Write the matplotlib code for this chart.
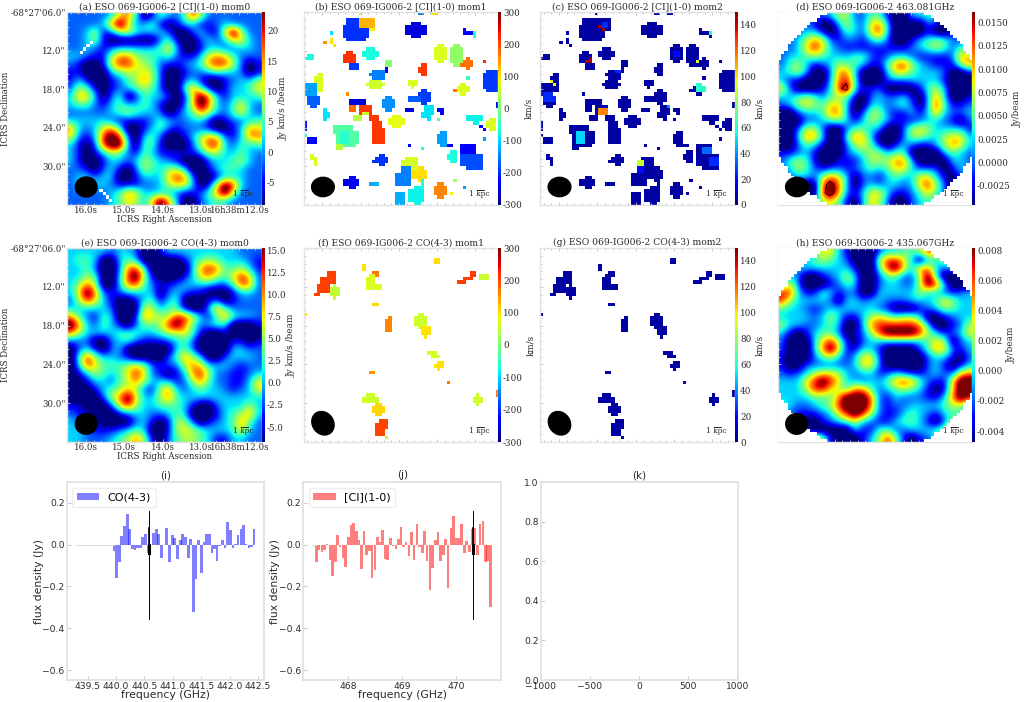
import numpy as np
import matplotlib
matplotlib.use('Agg')
import matplotlib.pyplot as plt
from matplotlib.colors import ListedColormap
from matplotlib.patches import Ellipse
from matplotlib.ticker import AutoMinorLocator, FormatStrFormatter

W, H = 1024, 702
SERIF = 'DejaVu Serif'
GREY = '#e2e2e2'
TXT = '#2a2a2a'
plt.rcParams['font.family'] = 'DejaVu Sans'

# map levels, 0 = bottom of colour bar, 9 = top of colour bar
ci_mom0_rows = [
    "222223674014324852222222", "222237962341013311232222", "223512564333200231169522",
    "223510000002410023236632", "223212333334630013322332", "332115775443421136764222",
    "210016886542112347885201", "110003455652001223433201", "131001245752002310012335",
    "254101234542004741013346", "376302401433201697313334", "344213433431002697324632",
    "222223454332013475324632", "333332111124322331012234", "732367400134212221001376",
    "621389820342001357621377", "310289930441000258832434", "310135421431111135533432",
    "310013323543210002334532", "221023102543553001344322", "233233001333687200133322",
    "233332111223566301698322", "222223476333321124795222", "222223465369730023432222",
]
co_mom0_rows = [
    "333332332001333333333222", "344300343000001345433321", "334200278400000378744531",
    "335400389510001367546862", "357500378421123333224872", "369721233330232110001332",
    "258631001341340001201222", "333332000653441003742222", "742143001765588631474332",
    "973243102445897423430001", "753333444334556410010000", "222002342111234200001101",
    "023102300000034200003322", "048533210000247530023332", "038644456521225763332122",
    "013543468621013785221123", "001332457533312574221136", "000134565215732343321236",
    "000025796335743333333333", "110002685334443100233353", "211000123322343000134573",
    "321100002310155201234742", "332111234300156543334632", "332223457510245543113322",
]
cont_463_rows = [
    "222222355224410033432222", "222210035326730000210122", "222331014326830000100122",
    "223576212213420013454222", "223686321111111123454243", "233454333442123321111276",
    "245312354431147853211157", "345300277300036643332001", "311000378400022233331000",
    "620001389311200001453000", "334542454102322310373001", "235654663003323420384112",
    "002334773025521131373223", "000223453135431112332102", "002552002443300256533331",
    "003773004763000255435663", "002431002564101321135763", "112310002345534400003432",
    "245410011135557730000332", "235421221234346632220132", "223325763022134336631022",
    "220007973023233236852012", "220008972136631124642002", "222225641036520023432122",
]
cont_435_rows = [
    "222236631000233445875322", "222345432000588630335432", "223333333100489637732322",
    "232001235300244225930002", "362000124300233225983000", "883114312200333335332123",
    "853333203323322233346533", "433212333333210001235433", "333323531135654553001233",
    "533223430037888887300125", "310134420125899998531236", "200036851023333333465023",
    "200037961133100002476213", "100024531366200000233102", "100222222366200000231013",
    "212356653233123211232267", "333689863323347874211699", "333588654774234543101699",
    "333344479997213222113798", "432234589997212233334553", "321112368985211343213433",
    "331001234532113443102553", "221100000311442233345842", "222275100013585101235322",
]

# colour bar ranges and ticks per map
ci_mom0_range = (-8.7, 23.1)
co_mom0_range = (-6.7, 15.3)
cont_463_range = (-0.00457, 0.01614)
cont_435_range = (-0.00473, 0.00815)
mom1_range = (-300, 300)
mom2_range = (0, 150)
ci_mom0_ticks = [-5, 0, 5, 10, 15, 20]
co_mom0_ticks = [-5.0, -2.5, 0.0, 2.5, 5.0, 7.5, 10.0, 12.5, 15.0]
cont_463_ticks = [-0.0025, 0.0, 0.0025, 0.005, 0.0075, 0.01, 0.0125, 0.015]
cont_435_ticks = [-0.004, -0.002, 0.0, 0.002, 0.004, 0.006, 0.008]
mom1_ticks = [-300, -200, -100, 0, 100, 200, 300]
mom2_ticks = [0, 20, 40, 60, 80, 100, 120, 140]

# detected regions as (col0, col1, row0, row1, km/s) on the 60x60 map
ci_mom1_blocks = [
    (12, 20, 4, 8, -195), (13, 19, 2, 9, -195), (17, 22, 2, 5, 130), (20, 22, 5, 6, 95), (17, 18, 0, 1, 60),
    (35, 37, 0, 1, -150), (39, 41, 0, 1, 105), (31, 38, 4, 7, -250), (33, 36, 3, 8, -250), (8, 9, 6, 7, -90),
    (6, 7, 9, 10, 150), (8, 9, 8, 10, 100), (9, 10, 10, 11, 100), (49, 50, 5, 7, -230), (50, 52, 6, 7, -230),
    (52, 53, 6, 8, -70), (1, 3, 13, 15, -70), (0, 1, 14, 15, -70), (12, 16, 13, 16, 215), (13, 15, 12, 13, 215),
    (14, 17, 16, 18, -190), (18, 23, 12, 14, -75), (19, 22, 11, 15, -75), (40, 44, 11, 15, 70), (41, 43, 10, 16, 70),
    (45, 49, 11, 16, 15), (46, 48, 10, 17, 15), (49, 52, 15, 17, 175), (50, 51, 14, 18, 175), (48, 50, 16, 17, 175),
    (55, 56, 15, 16, 220), (50, 51, 20, 21, -50), (35, 38, 17, 19, 210), (36, 38, 16, 20, 210),
    (21, 25, 18, 21, -150), (20, 24, 19, 20, -150), (25, 26, 17, 19, -240), (25, 27, 15, 17, 10),
    (19, 25, 22, 23, 60), (20, 24, 21, 24, 60), (3, 6, 20, 24, 70), (4, 6, 19, 25, 70),
    (0, 4, 22, 26, -130), (1, 5, 26, 29, -170), (2, 4, 29, 30, -170), (32, 35, 21, 23, 70), (33, 34, 23, 24, 70),
    (55, 59, 19, 24, -190), (56, 60, 18, 25, -190), (47, 51, 23, 25, 70), (48, 50, 22, 26, 70), (46, 47, 24, 25, 170),
    (13, 14, 25, 26, 150), (35, 39, 25, 28, -190), (32, 36, 26, 28, -170), (36, 38, 24, 29, -190),
    (14, 19, 27, 29, -250), (24, 28, 27, 30, -140), (25, 27, 26, 31, -140), (31, 34, 30, 31, -250),
    (37, 40, 29, 32, -90), (36, 39, 31, 33, -90), (38, 39, 33, 34, -90), (41, 43, 30, 31, -230), (42, 43, 31, 32, -230),
    (6, 8, 31, 33, -90), (6, 7, 30, 34, -90), (14, 16, 29, 31, 180), (17, 21, 29, 32, 210), (20, 23, 32, 34, 210),
    (21, 24, 34, 36, 210), (21, 25, 36, 41, 210), (15, 18, 32, 34, 40), (18, 20, 31, 32, 60),
    (26, 31, 33, 35, 75), (27, 30, 32, 36, 75), (50, 55, 32, 34, -80), (52, 54, 34, 35, -80), (54, 55, 35, 36, -230),
    (55, 56, 36, 37, -230), (57, 59, 33, 37, 70), (56, 58, 34, 36, 70), (59, 60, 28, 30, -220),
    (41, 42, 33, 34, -30), (10, 17, 37, 41, -30), (9, 15, 35, 38, -30), (12, 16, 41, 42, -30), (11, 14, 37, 41, -60),
    (10, 12, 41, 43, 40), (0, 1, 34, 37, -220), (1, 4, 39, 41, -230), (0, 1, 38, 39, -70), (41, 44, 38, 41, -130),
    (42, 44, 37, 42, -130), (44, 46, 41, 42, -230), (32, 33, 41, 42, -230), (36, 37, 42, 43, -60), (55, 56, 39, 40, -130),
    (48, 53, 41, 44, -230), (48, 55, 44, 48, -180), (50, 55, 48, 49, -180), (44, 47, 44, 46, -70), (45, 47, 43, 47, -70),
    (2, 3, 44, 46, 70), (3, 4, 45, 48, 70), (22, 26, 45, 47, -195), (21, 25, 46, 47, -195), (23, 25, 44, 48, -195),
    (31, 35, 45, 49, 65), (30, 32, 46, 48, 65), (33, 38, 49, 52, 105), (35, 37, 48, 53, 105), (28, 33, 50, 54, -150),
    (30, 33, 48, 50, -150), (12, 17, 52, 54, -240), (14, 16, 51, 55, -240), (20, 23, 53, 54, -120),
    (46, 47, 52, 53, 20), (49, 50, 54, 55, -130), (36, 37, 52, 55, -70), (32, 37, 55, 59, -80), (34, 36, 54, 60, -80),
    (28, 31, 56, 60, -120), (40, 44, 54, 57, 160), (41, 43, 53, 58, 160), (45, 46, 56, 57, 90),
]
# spots of larger dispersion, the rest of the mask sits near 5 km/s
ci_mom2_spots = [
    (18, 19, 4, 5, 145), (19, 20, 5, 6, 145), (19, 21, 3, 5, 25), (15, 16, 14, 16, 145), (14, 15, 15, 16, 145),
    (23, 25, 17, 19, 25), (41, 43, 12, 14, 20), (44, 45, 14, 15, 40), (48, 49, 15, 16, 95), (48, 51, 22, 25, 60),
    (3, 4, 21, 22, 95), (4, 5, 22, 23, 95), (1, 5, 25, 28, 25), (18, 21, 30, 32, 115), (39, 40, 29, 30, 40),
    (11, 14, 37, 41, 50), (1, 2, 38, 39, 60), (50, 54, 42, 44, 35), (52, 55, 45, 48, 25), (30, 32, 46, 48, 90),
    (30, 32, 48, 50, 20), (37, 38, 52, 53, 75), (52, 53, 6, 7, 60),
]
co_mom1_blocks = [
    (7, 10, 7, 9, 205), (5, 10, 9, 11, 205), (4, 8, 11, 14, 205), (3, 5, 14, 15, 205), (8, 11, 12, 15, 50),
    (9, 10, 11, 16, 50), (40, 42, 3, 5, 105), (18, 19, 5, 7, 100), (21, 23, 7, 9, 170), (20, 22, 8, 13, 70),
    (19, 24, 11, 13, 70), (19, 21, 9, 11, 70), (21, 23, 17, 18, 110), (0, 1, 20, 21, 105), (25, 27, 22, 26, 160),
    (26, 27, 21, 22, 160), (34, 38, 21, 24, 60), (35, 37, 20, 25, 60), (36, 39, 24, 27, 100), (37, 38, 27, 28, 100),
    (38, 41, 32, 33, 65), (39, 42, 33, 34, 65), (41, 43, 35, 37, 100), (40, 42, 36, 37, 100), (41, 42, 37, 38, 100),
    (20, 22, 38, 39, 150), (44, 45, 41, 42, 170), (59, 60, 44, 46, 170), (18, 23, 46, 48, 60), (19, 22, 45, 48, 60),
    (52, 55, 46, 48, 60), (53, 54, 45, 49, 60), (21, 25, 49, 51, 110), (22, 24, 48, 52, 110), (22, 26, 54, 56, 200),
    (22, 25, 56, 58, 200), (23, 26, 53, 56, 200), (25, 26, 58, 59, 50), (51, 53, 7, 9, 205), (49, 52, 9, 10, 205),
    (47, 50, 10, 11, 205), (54, 57, 8, 10, 55),
]
co_mom2_spots = [(8, 9, 11, 12, 70)]
mom2_floor = 5

# blank map pixels on the rim of panel (a), (col0, col1, row0, row1)
ci_mom0_blank = [(10, 11, 55, 56), (11, 12, 56, 57), (12, 13, 57, 58), (13, 14, 58, 59),
                 (4, 5, 12, 13), (5, 6, 11, 12), (6, 7, 10, 11), (7, 8, 9, 10)]

# beam and scale bar, (centre x, centre y, width, height, angle)
beam_a = (5.9, 54.4, 6.7, 6.2, 0)
beam_b = (6.0, 54.4, 7.0, 6.0, 0)
beam_e = (5.9, 54.4, 6.7, 6.4, 0)
beam_f = (6.0, 54.2, 6.5, 7.6, -35)

# spectra
co_freq = [439.96, 440.01, 440.06, 440.10, 440.15, 440.20, 440.24, 440.29, 440.33, 440.38, 440.43, 440.47,
           440.52, 440.57, 440.61, 440.66, 440.71, 440.75, 440.80, 440.85, 440.89, 440.94, 440.99, 441.03,
           441.08, 441.13, 441.17, 441.22, 441.27, 441.31, 441.36, 441.41, 441.45, 441.50, 441.55, 441.59,
           441.64, 441.69, 441.73, 441.78, 441.82, 441.87, 441.92, 441.96, 442.01, 442.06, 442.10, 442.15,
           442.20, 442.24, 442.29, 442.34, 442.38, 442.43]
co_flux = [-0.03, -0.16, -0.085, 0.042, 0.09, 0.145, 0.075, -0.02, -0.025, -0.015, -0.016, 0.035,
           0.052, -0.04, 0.0, 0.055, 0.072, 0.05, -0.065, 0.0, 0.08, -0.085, 0.048, 0.03,
           -0.07, 0.02, 0.05, 0.035, -0.065, 0.028, -0.32, -0.165, 0.02, -0.135, 0.012, 0.05,
           0.052, -0.04, -0.02, -0.078, -0.005, 0.02, -0.018, 0.107, 0.07, -0.015, 0.005, 0.045,
           0.075, 0.092, 0.002, -0.015, -0.012, 0.075]
ci_freq = [467.41, 467.46, 467.51, 467.56, 467.61, 467.66, 467.71, 467.76, 467.80, 467.85, 467.90, 467.95,
           468.00, 468.05, 468.10, 468.15, 468.20, 468.24, 468.29, 468.34, 468.39, 468.44, 468.49, 468.54,
           468.59, 468.63, 468.68, 468.73, 468.78, 468.83, 468.88, 468.93, 468.98, 469.02, 469.07, 469.12,
           469.17, 469.22, 469.27, 469.32, 469.37, 469.41, 469.46, 469.51, 469.56, 469.61, 469.66, 469.71,
           469.76, 469.80, 469.85, 469.90, 469.95, 470.00, 470.05, 470.10, 470.15, 470.19, 470.24, 470.29,
           470.34, 470.39, 470.44, 470.49, 470.54, 470.58, 470.63]
ci_flux = [-0.085, -0.025, -0.035, -0.025, 0.005, -0.075, -0.15, -0.085, 0.045, -0.012, -0.065, -0.108,
           0.037, 0.095, 0.102, 0.063, 0.02, -0.118, 0.067, -0.052, -0.03, -0.16, -0.12, 0.035,
           0.01, 0.07, -0.07, -0.075, 0.033, -0.007, -0.02, 0.025, 0.085, -0.013, 0.01, -0.055,
           0.062, -0.072, 0.097, -0.012, -0.042, 0.065, -0.078, -0.218, -0.11, 0.023, 0.06, -0.078,
           -0.05, 0.027, -0.207, 0.077, 0.135, 0.03, 0.03, 0.097, -0.04, 0.015, -0.035, 0.072,
           0.077, -0.05, 0.097, 0.112, -0.082, -0.08, -0.3]
co_marker = 440.58
ci_marker = 470.31

ra_ticks = [5.85, 17.65, 29.45, 41.25, 53.05]
ra_labels = ['16.0s', '15.0s', '14.0s', '13.0s', '16h38m12.0s']
dec_ticks = [0, 12, 24, 36, 48]
dec_labels = ['-68°27\'06.0"', '12.0"', '18.0"', '24.0"', '30.0"']


def px_axes(fig, x0, y0, x1, y1):
    return fig.add_axes([x0 / W, 1 - y1 / H, (x1 - x0) / W, (y1 - y0) / H])


def levels_to_map(rows, vrange):
    grid = np.array([[int(c) for c in row] for row in rows], dtype=float)
    # the ends of the scale are clipped in the picture, so push them past the colour bar
    grid[grid == 0] = -1
    grid[grid == 9] = 10.5
    return vrange[0] + grid / 9 * (vrange[1] - vrange[0])


def blocks_to_map(blocks):
    data = np.full((60, 60), np.nan)
    for c0, c1, r0, r1, v in blocks:
        data[r0:r1, c0:c1] = v
    return data


def dress_map(ax, title, beam, labels=False):
    ax.set_xlim(0, 60)
    ax.set_ylim(60, 0)
    ax.set_xticks(ra_ticks)
    ax.set_yticks(dec_ticks)
    ax.xaxis.set_minor_locator(AutoMinorLocator(5))
    ax.yaxis.set_minor_locator(AutoMinorLocator(5))
    ax.tick_params(which='both', direction='in', top=True, color='#bdbdbd', width=0.6, length=2)
    ax.tick_params(which='minor', length=1.2)
    if labels:
        ax.set_xticklabels(ra_labels, family=SERIF, fontsize=6.2, color=TXT)
        ax.set_yticklabels(dec_labels, family=SERIF, fontsize=6.2, color=TXT)
        ax.tick_params(pad=1)
        ax.set_xlabel('ICRS Right Ascension', family=SERIF, fontsize=6.2, color=TXT)
        ax.set_ylabel('ICRS Declination', family=SERIF, fontsize=6.2, color=TXT)
        ax.xaxis.set_label_coords(0.5, -14.0 / 193, transform=ax.transAxes)
        ax.xaxis.label.set_va('center')
        ax.yaxis.set_label_coords(-62.0 / 195, 0.5, transform=ax.transAxes)
        ax.yaxis.label.set_va('center')
    else:
        ax.set_xticklabels([])
        ax.set_yticklabels([])
    for s in ax.spines.values():
        s.set_color(GREY)
        s.set_linewidth(1.0)
    ax.set_title(title, family=SERIF, fontsize=6.6, color=TXT, pad=2)
    ax.add_patch(Ellipse(beam[:2], beam[2], beam[3], angle=beam[4], color='k', zorder=5))
    ax.text(0.905, 0.058, '1 kpc', transform=ax.transAxes, family=SERIF, fontsize=5.4,
            ha='center', va='center', color=TXT, zorder=6)
    ax.plot([0.892, 0.928], [0.078, 0.078], transform=ax.transAxes, color='k', lw=0.6, zorder=6)


def add_cbar(fig, im, x0, y0, y1, ticks, fmt, label, label_x):
    cax = px_axes(fig, x0, y0, x0 + 3, y1)
    cb = fig.colorbar(im, cax=cax, ticks=ticks)
    cb.outline.set_visible(False)
    cax.tick_params(length=0, pad=1.5, labelsize=6.3, labelcolor=TXT)
    cax.yaxis.set_major_formatter(FormatStrFormatter(fmt))
    for t in cax.get_yticklabels():
        t.set_family(SERIF)
    fig.text(label_x / W, 1 - (y0 + y1) / 2 / H, label, family=SERIF, fontsize=6.4, color=TXT,
             rotation=90, ha='center', va='center')


def continuum_mask(ax):
    # white outside the primary beam, on the map's own pixels
    yy, xx = np.mgrid[0:60, 0:60]
    out = np.hypot(xx + 0.5 - 30, yy + 0.5 - 30) > 33
    ax.imshow(np.ma.masked_where(~out, out), cmap=ListedColormap(['white']), extent=(0, 60, 60, 0),
              interpolation='nearest', zorder=3, aspect='auto')


def smooth_panel(ax, rows, vrange):
    return ax.imshow(levels_to_map(rows, vrange), cmap='jet', vmin=vrange[0], vmax=vrange[1],
                     extent=(0, 60, 60, 0), interpolation='bicubic', aspect='auto')


def mask_panel(ax, data, vrange):
    cmap = plt.get_cmap('jet').copy()
    cmap.set_bad('white')
    return ax.imshow(data, cmap=cmap, vmin=vrange[0], vmax=vrange[1], extent=(0, 60, 60, 0),
                     interpolation='nearest', aspect='auto')


def spectrum(ax, title, freq, flux, color, label, marker, xticks, xfmt, xlim):
    ax.bar(freq, flux, width=0.046, color=color, alpha=0.5, label=label)
    ax.plot([xlim[0] + 0.17, freq[0]], [0, 0], color='#dddddd', lw=0.8)
    ax.plot([marker, marker], [-0.355, 0.16], color='k', lw=0.7)
    ax.plot([marker, marker], [-0.04, 0.08], color='k', lw=1.2)
    ax.plot([marker, marker], [-0.04, 0.0], color='k', lw=2.2)
    ax.set_xlim(xlim)
    ax.set_ylim(-0.646, 0.297)
    ax.set_xticks(xticks)
    ax.set_xticklabels([xfmt % v for v in xticks])
    ax.set_yticks([-0.6, -0.4, -0.2, 0.0, 0.2])
    ax.set_xlabel('frequency (GHz)', fontsize=7.8, color=TXT)
    ax.set_ylabel('flux density (Jy)', fontsize=7.8, color=TXT)
    ax.xaxis.set_label_coords(0.5, -15.0 / 197.7, transform=ax.transAxes)
    ax.xaxis.label.set_va('center')
    ax.yaxis.set_label_coords(-28.0 / 197.6, 0.5, transform=ax.transAxes)
    ax.yaxis.label.set_va('center')
    ax.legend(loc='upper left', fontsize=8, handlelength=2, borderaxespad=0.5, edgecolor='#eeeeee', framealpha=1)
    style_spec(ax, title)


def style_spec(ax, title):
    ax.tick_params(direction='in', labelsize=6.6, colors=TXT, color='#cccccc', length=3, width=0.7, pad=1.5)
    for s in ax.spines.values():
        s.set_color(GREY)
        s.set_linewidth(1.3)
    ax.set_title(title, fontsize=7.5, color=TXT, pad=3)


fig = plt.figure(figsize=(W / 100, H / 100), dpi=100, facecolor='white')

# top row
ax = px_axes(fig, 67, 12, 262, 205)
im = smooth_panel(ax, ci_mom0_rows, ci_mom0_range)
blank = np.ma.masked_invalid(blocks_to_map([b + (1,) for b in ci_mom0_blank]))
ax.imshow(blank, cmap=ListedColormap(['white']), extent=(0, 60, 60, 0), interpolation='nearest',
          zorder=2, aspect='auto')
dress_map(ax, '(a) ESO 069-IG006-2 [CI](1-0) mom0', beam_a, labels=True)
add_cbar(fig, im, 262, 12, 205, ci_mom0_ticks, '%d', 'Jy km/s /beam', 283)

ax = px_axes(fig, 303.5, 12, 498, 205)
ci_mom1 = blocks_to_map(ci_mom1_blocks)
im = mask_panel(ax, ci_mom1, mom1_range)
dress_map(ax, '(b) ESO 069-IG006-2 [CI](1-0) mom1', beam_b)
add_cbar(fig, im, 498, 12, 205, mom1_ticks, '%d', 'km/s', 529)

ax = px_axes(fig, 540, 12, 735, 205)
ci_mom2 = np.where(np.isnan(ci_mom1), np.nan, mom2_floor)
spots = blocks_to_map(ci_mom2_spots)
ci_mom2 = np.where(np.isnan(spots) | np.isnan(ci_mom2), ci_mom2, spots)
im = mask_panel(ax, ci_mom2, mom2_range)
dress_map(ax, '(c) ESO 069-IG006-2 [CI](1-0) mom2', beam_b)
add_cbar(fig, im, 735, 12, 205, mom2_ticks, '%d', 'km/s', 760)

ax = px_axes(fig, 777.5, 12, 972, 205)
im = smooth_panel(ax, cont_463_rows, cont_463_range)
continuum_mask(ax)
grid = levels_to_map(cont_463_rows, cont_463_range)
ax.contour(np.arange(24) * 2.5 + 1.25, np.arange(24) * 2.5 + 1.25, grid, levels=[0.016], colors='k',
           linewidths=0.6, zorder=4)
dress_map(ax, '(d) ESO 069-IG006-2 463.081GHz', beam_b)
add_cbar(fig, im, 972, 12, 205, cont_463_ticks, '%.4f', 'Jy/beam', 1017)

# second row
ax = px_axes(fig, 67, 248, 262, 442)
im = smooth_panel(ax, co_mom0_rows, co_mom0_range)
dress_map(ax, '(e) ESO 069-IG006-2 CO(4-3) mom0', beam_e, labels=True)
add_cbar(fig, im, 262, 248, 442, co_mom0_ticks, '%.1f', 'Jy km/s /beam', 291)

ax = px_axes(fig, 303.5, 248, 498, 442)
co_mom1 = blocks_to_map(co_mom1_blocks)
im = mask_panel(ax, co_mom1, mom1_range)
dress_map(ax, '(f) ESO 069-IG006-2 CO(4-3) mom1', beam_f)
add_cbar(fig, im, 498, 248, 442, mom1_ticks, '%d', 'km/s', 531)

ax = px_axes(fig, 540, 248, 735, 442)
co_mom2 = np.where(np.isnan(co_mom1), np.nan, mom2_floor)
spots = blocks_to_map(co_mom2_spots)
co_mom2 = np.where(np.isnan(spots) | np.isnan(co_mom2), co_mom2, spots)
im = mask_panel(ax, co_mom2, mom2_range)
dress_map(ax, '(g) ESO 069-IG006-2 CO(4-3) mom2', beam_f)
add_cbar(fig, im, 735, 248, 442, mom2_ticks, '%d', 'km/s', 760)

ax = px_axes(fig, 777.5, 248, 972, 442)
im = smooth_panel(ax, cont_435_rows, cont_435_range)
continuum_mask(ax)
dress_map(ax, '(h) ESO 069-IG006-2 435.067GHz', beam_e)
add_cbar(fig, im, 972, 248, 442, cont_435_ticks, '%.3f', 'Jy/beam', 1011)

# spectra
ax = px_axes(fig, 66.7, 482.3, 264.3, 680)
spectrum(ax, '(i)', co_freq, co_flux, 'blue', 'CO(4-3)', co_marker,
         [439.5, 440.0, 440.5, 441.0, 441.5, 442.0, 442.5], '%.1f', (439.13, 442.61))

ax = px_axes(fig, 303.3, 482.3, 501, 680)
spectrum(ax, '(j)', ci_freq, ci_flux, 'red', '[CI](1-0)', ci_marker,
         [468, 469, 470], '%d', (467.167, 470.827))

ax = px_axes(fig, 540.7, 482.3, 737.7, 680)
ax.set_xlim(-1000, 1000)
ax.set_ylim(0, 1)
ax.set_xticks([-1000, -500, 0, 500, 1000])
ax.set_yticks([0.0, 0.2, 0.4, 0.6, 0.8, 1.0])
style_spec(ax, '(k)')

fig.savefig('out.png', dpi=100)
